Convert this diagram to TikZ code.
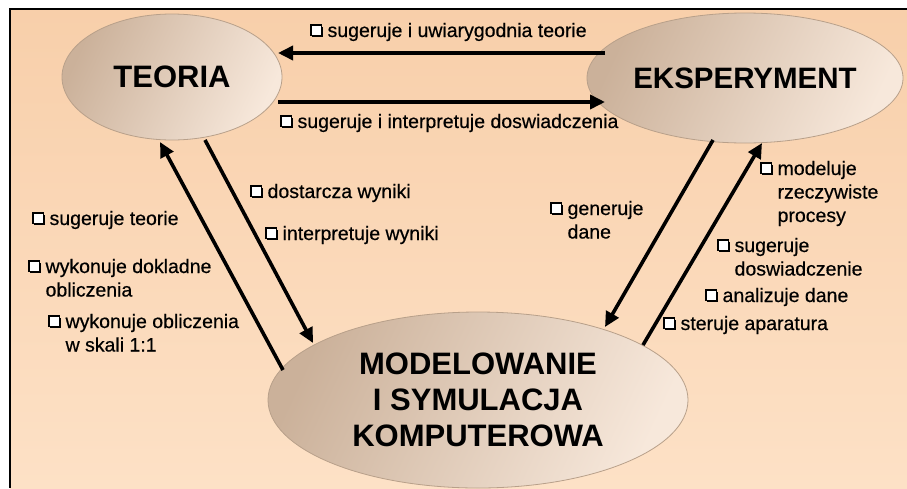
\documentclass[tikz,border=0pt]{standalone}
\usepackage{fontspec}
\setmainfont{Liberation Sans}
\newfontfamily\lblfont{Liberation Sans}[BoldFont=Liberation Sans, BoldFeatures={FakeBold=0.5}]
\usetikzlibrary{shapes.geometric,arrows.meta,calc}
\definecolor{bgtop}{HTML}{F8CFAA}
\definecolor{bgbot}{HTML}{FDE1C6}
\definecolor{elldark}{HTML}{CBB19A}
\definecolor{elllight}{HTML}{F7E8DB}
\definecolor{ellline}{HTML}{B8A08A}
\newcommand{\cbx}{\tikz[baseline=0pt,x=1pt,y=1pt]{\fill[black] (2,0.1) rectangle (12.4,10.4);\fill[white] (0.7,1.6) rectangle (11,11.9);\draw[line width=1.4pt] (0.7,1.6) rectangle (11,11.9);}\hspace{5pt}}
\tikzset{
  bubble/.style={ellipse, draw=ellline, line width=0.8pt, inner sep=0pt,
    left color=elldark, right color=elllight, shading angle=65,
    font=\fontsize{31}{36}\selectfont\bfseries, align=center},
  arr/.style={line width=3.6pt, -{Triangle[length=15pt,width=14pt]}},
  lbl/.style={anchor=base west, inner sep=0pt, font=\lblfont\bfseries\fontsize{19.5}{23.5}\selectfont}
}
\begin{document}
\begin{tikzpicture}[x=1pt,y=-1pt]
\useasboundingbox (0,0) rectangle (907,488);
\fill[white] (0,0) rectangle (907,488);
\shade[top color=bgtop,bottom color=bgbot] (10,9) rectangle (907,488);
\draw[line width=2pt] (9.5,488) -- (9.5,8.5) -- (907,8.5);

\node[bubble, minimum width=220pt, minimum height=126pt] (teoria) at (172,77) {TEORIA};
\node[bubble, minimum width=290pt, minimum height=130pt, font=\fontsize{29.5}{34}\selectfont\bfseries] (eks) at (745,78) {EKSPERYMENT};
\node[bubble, minimum width=420pt, minimum height=176pt, font=\fontsize{31}{36}\selectfont\bfseries] (model) at (478,400) {MODELOWANIE\\I SYMULACJA\\KOMPUTEROWA};

\draw[arr] ($(eks.center)+(-140,-25)$) -- ($(teoria.center)+(106,-24)$);
\draw[arr] ($(teoria.center)+(106,25)$) -- ($(eks.center)+(-140,24)$);
\draw[arr] ($(model.center)+(-195,-30)$) -- ($(teoria.center)+(-12,65)$);
\draw[arr] ($(teoria.center)+(33,63)$) -- ($(model.center)+(-165,-57)$);
\draw[arr] ($(eks.center)+(-32,62)$) -- ($(model.center)+(127,-73)$);
\draw[arr] ($(model.center)+(165,-55)$) -- ($(eks.center)+(17,65)$);

\node[lbl] (l1) at (310,37) {\cbx sugeruje i uwiarygodnia teorie};
\node[lbl] (l2) at (280,128) {\cbx sugeruje i interpretuje doswiadczenia};
\node[lbl] (l3) at (32,225) {\cbx sugeruje teorie};
\node[lbl] (l4) at (28,273) {\cbx\begin{tabular}[t]{@{}l@{}}wykonuje dokladne\\obliczenia\end{tabular}};
\node[lbl] (l5) at (48,328) {\cbx\begin{tabular}[t]{@{}l@{}}wykonuje obliczenia\\w skali 1:1\end{tabular}};
\node[lbl] (l6) at (250,198) {\cbx dostarcza wyniki};
\node[lbl] (l7) at (265,240) {\cbx interpretuje wyniki};
\node[lbl] (l8) at (550,215) {\cbx\begin{tabular}[t]{@{}l@{}}generuje\\dane\end{tabular}};
\node[lbl] (l9) at (760,175) {\cbx\begin{tabular}[t]{@{}l@{}}modeluje\\rzeczywiste\\procesy\end{tabular}};
\node[lbl] (l10) at (717,252) {\cbx\begin{tabular}[t]{@{}l@{}}sugeruje\\doswiadczenie\end{tabular}};
\node[lbl] (l11) at (705,302) {\cbx analizuje dane};
\node[lbl] (l12) at (663,330) {\cbx steruje aparatura};
\end{tikzpicture}
\end{document}
